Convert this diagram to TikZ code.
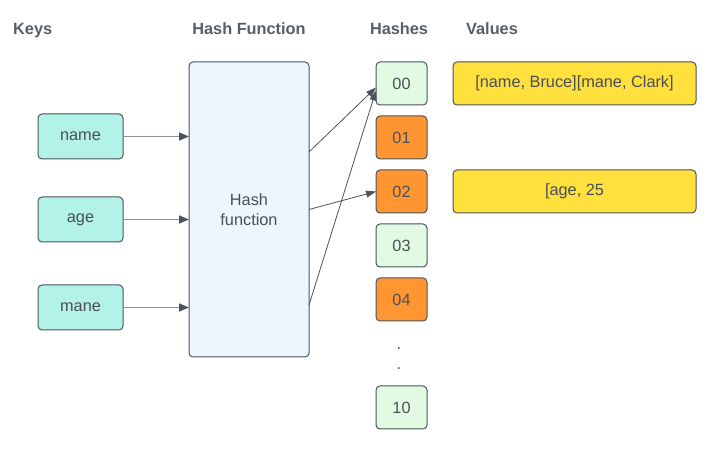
\documentclass[tikz,border=0pt]{standalone}
\usepackage{fontspec}
\setmainfont{Liberation Sans}
\usepackage{xcolor}
\usetikzlibrary{arrows.meta, calc, positioning}

\definecolor{edge}{HTML}{4B535D}
\definecolor{txt}{HTML}{4A4F55}
\definecolor{ttl}{HTML}{595E65}
\definecolor{lgray}{HTML}{8C9096}
\definecolor{keyfill}{HTML}{B3F2E6}
\definecolor{funcfill}{HTML}{EDF5FF}
\definecolor{hgreen}{HTML}{E2FAE2}
\definecolor{horange}{HTML}{FF9632}
\definecolor{valfill}{HTML}{FFE03C}

\begin{document}
\begin{tikzpicture}[x=1pt, y=-1pt, node distance=11pt,
  every node/.style={align=center, text=txt, font=\fontsize{16.3}{20}\selectfont},
  box/.style={draw=edge, line width=1pt, rounded corners=4pt, inner sep=0pt, outer sep=0pt},
  keybox/.style={box, fill=keyfill, minimum width=85pt, minimum height=45pt},
  funcbox/.style={box, fill=funcfill, minimum width=120pt, minimum height=295pt},
  greenhash/.style={box, fill=hgreen, minimum width=51pt, minimum height=43pt},
  orangehash/.style={greenhash, fill=horange},
  valbox/.style={box, fill=valfill, minimum width=243pt, minimum height=43pt},
  title/.style={font=\fontsize{16.3}{20}\selectfont\bfseries, text=ttl, anchor=base, inner sep=0pt},
  feed/.style={-{Triangle[length=10pt, width=8pt, color=edge]}, draw=lgray, line width=1.5pt},
  link/.style={-{Triangle[length=10pt, width=7pt]}, draw=edge, line width=0.8pt}]
\useasboundingbox (0,0) rectangle (724,473);

% column titles
\node[title, anchor=base west] (tkeys) at (13,34.5) {Keys};
\node[title] (tfunc) at (249,34.5) {Hash Function};
\node[title] (thash) at (399,34.5) {Hashes};
\node[title, anchor=base west] (tval) at (466,34.5) {Values};

% keys
\node[keybox] (name) at (80.5,136.5) {name};
\node[keybox, below=38pt of name] (age) {age};
\node[keybox, below=43pt of age] (mane) {mane};

% hash function
\node[funcbox] (hf) at (249,209.5) {Hash\\function};

% hashes
\node[greenhash] (h00) at (401.5,83.5) {00};
\node[orangehash, below=of h00] (h01) {01};
\node[orangehash, below=of h01] (h02) {02};
\node[greenhash, below=of h02] (h03) {03};
\node[orangehash, below=of h03] (h04) {04};
\node[anchor=base] (d1) at (399,349.5) {.};
\node[anchor=base] (d2) at (399,369.5) {.};
\node[greenhash, below=65pt of h04] (h10) {10};

% values
\node[valbox, right=26pt of h00] (v00) {[name, Bruce][mane, Clark]};
\node[valbox, right=26pt of h02] (v02) {[age, 25};

% connectors
\draw[feed] (name) -- (hf.west |- name);
\draw[feed] (age) -- (hf.west |- age);
\draw[feed] (mane) -- (hf.west |- mane);
\coordinate (o1) at ($(hf.north east)!0.305!(hf.south east)$);
\coordinate (o3) at ($(hf.north east)!0.824!(hf.south east)$);
\draw[link] (o1) -- ([yshift=-4pt]h00.west);
\draw[link] (hf.east) -- (h02.west);
\draw[link] (o3) -- ([yshift=-7pt]h00.west);
\end{tikzpicture}
\end{document}
